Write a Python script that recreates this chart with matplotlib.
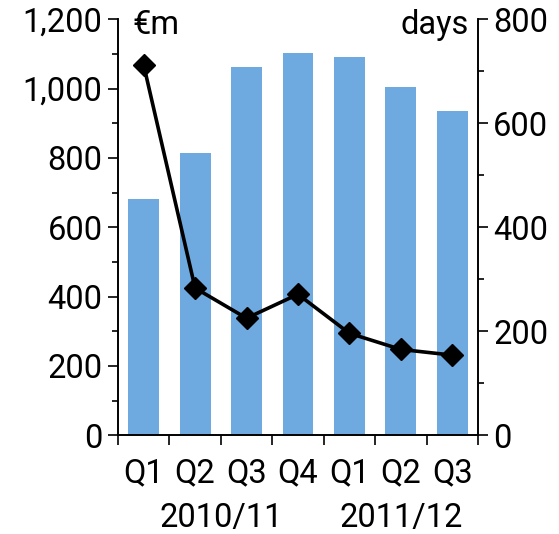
import matplotlib

matplotlib.use("Agg")
import matplotlib.pyplot as plt
import numpy as np
from matplotlib.ticker import FuncFormatter, MultipleLocator

plt.rcParams["font.family"] = ["Roboto", "DejaVu Sans"]

quarters = ["Q1", "Q2", "Q3", "Q4", "Q1", "Q2", "Q3"]
years = ["2010/11", "2011/12"]
year_spans = [(0, 4), (4, 7)]  # [start, end) quarter index per financial year
value_em = [681, 813, 1061, 1102, 1090, 1004, 935]  # bars, left axis (€m)
days = [712, 283, 225, 271, 196, 165, 154]  # line, right axis (days)

BAR_COLOR = "#6ea9df"
FS = 23.5

fig = plt.figure(figsize=(5.59, 5.34), dpi=100)
ax = fig.add_axes([0.211, 0.185, 0.644, 0.779])
ax2 = ax.twinx()

x = np.arange(len(quarters))
ax.bar(x, value_em, width=0.6, color=BAR_COLOR, zorder=1)
ax2.plot(x, days, color="black", lw=2.6, marker="D", markersize=11, zorder=3)

ax.set_xlim(-0.5, len(quarters) - 0.5)
ax.set_ylim(0, 1200)
ax2.set_ylim(0, 800)

# left axis: € millions
ax.yaxis.set_major_locator(MultipleLocator(200))
ax.yaxis.set_minor_locator(MultipleLocator(100))
ax.yaxis.set_major_formatter(FuncFormatter(lambda v, _: f"{v:,.0f}"))
# right axis: days
ax2.yaxis.set_major_locator(MultipleLocator(200))
ax2.yaxis.set_minor_locator(MultipleLocator(100))

# category boundaries carry the x ticks, labels sit at the centres
ax.set_xticks(np.arange(len(quarters) + 1) - 0.5)
ax.set_xticklabels([])
for i, q in enumerate(quarters):
    ax.text(i, -0.092, q, transform=ax.get_xaxis_transform(), ha="center", va="center", fontsize=FS)
for label, (a, b) in zip(years, year_spans):
    ax.text((a + b - 1) / 2, -0.2, label, transform=ax.get_xaxis_transform(),
            ha="center", va="center", fontsize=FS)

for a in (ax, ax2):
    a.spines["top"].set_visible(False)
    for s in a.spines.values():
        s.set_linewidth(1.2)
    a.tick_params(axis="both", which="major", length=7, width=1.2, labelsize=FS, pad=4)
    a.tick_params(axis="y", which="minor", length=4.5, width=1.2)
ax.tick_params(axis="x", length=7)

ax.text(0.04, 0.985, "€m", transform=ax.transAxes, ha="left", va="center", fontsize=FS)
ax2.text(0.975, 0.985, "days", transform=ax2.transAxes, ha="right", va="center", fontsize=FS)

fig.savefig("out.png", dpi=100)
